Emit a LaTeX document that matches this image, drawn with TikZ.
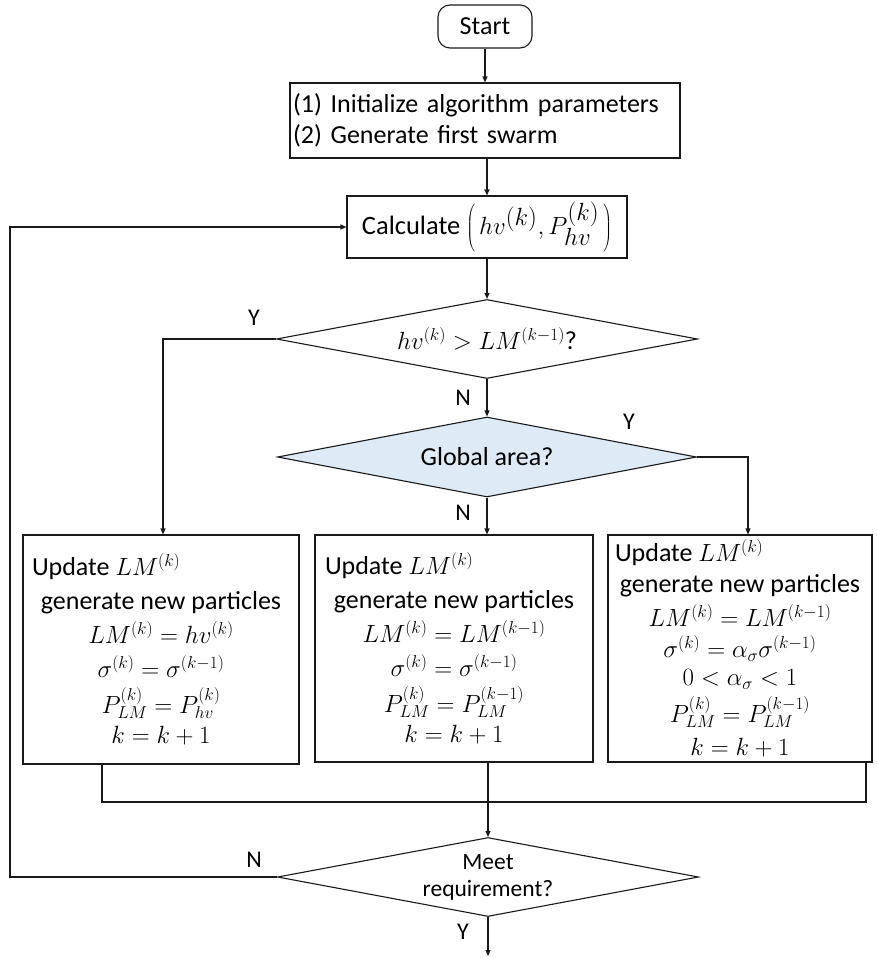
\documentclass[tikz,border=0pt]{standalone}
\usepackage{fontspec}
\setmainfont{Carlito}
\usetikzlibrary{arrows.meta,shapes.geometric}
\definecolor{lineclr}{HTML}{1A1A1A}
\definecolor{decfill}{HTML}{DEEAF6}
\tikzset{
  every node/.style={font=\fontsize{25}{30}\selectfont},
  flowline/.style={draw=lineclr, line width=1.1pt},
  arr/.style={flowline, -{Triangle[length=6pt,width=5pt]}},
  procbox/.style={draw=lineclr, line width=1.1pt, inner sep=0pt},
  decision/.style={draw=lineclr, line width=1.1pt, diamond, aspect=5.3, inner sep=0pt},
  branch/.style={font=\fontsize{24}{28}\selectfont, inner sep=0pt},
}
\newcommand{\firstline}[2]{\makebox[#1][l]{#2}}
\begin{document}
\begin{tikzpicture}[x=1pt,y=-1pt]
\useasboundingbox (0,0) rectangle (876,958);

% terminator and set-up boxes
\node[procbox, rounded corners=12pt, minimum width=94pt, minimum height=43pt, font=\fontsize{26}{30}\selectfont] (start) at (485,26.5) {Start};
\node[procbox, minimum width=390pt, minimum height=75pt, align=left, text width=384pt, inner xsep=3pt,
      font=\fontsize{26}{31}\selectfont] (init) at (485,120.5)
  {(1) Initialize algorithm parameters\\(2) Generate first swarm};
\node[procbox, minimum width=280pt, minimum height=62pt, font=\fontsize{26.5}{30}\selectfont] (calc) at (487,227)
  {Calculate {\fontsize{34}{40}\selectfont\delimiterfactor=800 \delimitershortfall=12pt
   $\left(\,hv^{(k)}, P_{hv}^{(k)}\,\right)$}};

% decisions
\node[decision, minimum width=421pt, minimum height=79pt, font=\fontsize{26}{30}\selectfont] (d1) at (487,339)
  {$hv^{(k)} > LM^{(k-1)}$?};
\node[decision, fill=decfill, minimum width=419pt, minimum height=80pt, font=\fontsize{26}{30}\selectfont] (d2) at (487,457)
  {Global area?};
\node[decision, minimum width=421pt, minimum height=79pt, align=center, font=\fontsize{23.5}{27}\selectfont] (d3) at (488,877)
  {Meet\\requirement?};

% update boxes
\node[procbox, minimum width=276pt, minimum height=229pt, align=center,
      font=\fontsize{26}{34}\selectfont] (b1) at (161,649.5)
  {\firstline{258pt}{Update $LM^{(k)}$}\\
   generate new particles\\
   $LM^{(k)} = hv^{(k)}$\\
   $\sigma^{(k)} = \sigma^{(k-1)}$\\[2pt]
   $P_{LM}^{(k)} = P_{hv}^{(k)}$\\[-4pt]
   $k = k+1$};
\node[procbox, minimum width=278pt, minimum height=227pt, align=center,
      font=\fontsize{26}{34}\selectfont] (b2) at (454,648.5)
  {\firstline{258pt}{Update $LM^{(k)}$}\\
   generate new particles\\
   $LM^{(k)} = LM^{(k-1)}$\\
   $\sigma^{(k)} = \sigma^{(k-1)}$\\[2pt]
   $P_{LM}^{(k)} = P_{LM}^{(k-1)}$\\[-4pt]
   $k = k+1$};
\node[procbox, minimum width=264pt, minimum height=227pt, align=center,
      font=\fontsize{26}{31}\selectfont] (b3) at (740,648.5)
  {\firstline{250pt}{Update $LM^{(k)}$}\\
   generate new particles\\[3pt]
   $LM^{(k)} = LM^{(k-1)}$\\
   $\sigma^{(k)} = \alpha_\sigma\sigma^{(k-1)}$\\[-3pt]
   $0 < \alpha_\sigma < 1$\\[6pt]
   $P_{LM}^{(k)} = P_{LM}^{(k-1)}$\\[2pt]
   $k = k+1$};

% routing points
\coordinate (leftx) at (163,0);
\coordinate (rightx) at (748,0);
\coordinate (mergeL) at (102,802);
\coordinate (mergeR) at (866,802);
\coordinate (loopx) at (10,877);
\coordinate (endpt) at (488,956);

% connectors
\draw[arr] (start) -- (init.north -| start);
\draw[arr] (init.south -| calc) -- (calc);
\draw[arr] (calc.south -| d1) -- (d1);
\draw[arr] (d1) -- (d2);
\draw[arr] (d1.west) -| (b1.north -| leftx);
\draw[arr] (d2.east) -| (b3.north -| rightx);
\draw[arr] (d2.south) -- (b2.north -| d2.south);
\draw[flowline] (b1.south -| mergeL) -- (mergeL) -- (mergeR) -- (b3.south -| mergeR);
\draw[arr] (b2.south -| d3) -- (d3);
\draw[arr] (d3.west) -- (loopx) |- (calc.west);
\draw[arr] (d3.south) -- (endpt);

% branch labels
\node[branch] (y1) at (254,318) {Y};
\node[branch] (n1) at (463,398) {N};
\node[branch] (y2) at (629,422) {Y};
\node[branch] (n2) at (463,513) {N};
\node[branch] (n3) at (254,860) {N};
\node[branch] (y3) at (463,932) {Y};
\end{tikzpicture}
\end{document}
